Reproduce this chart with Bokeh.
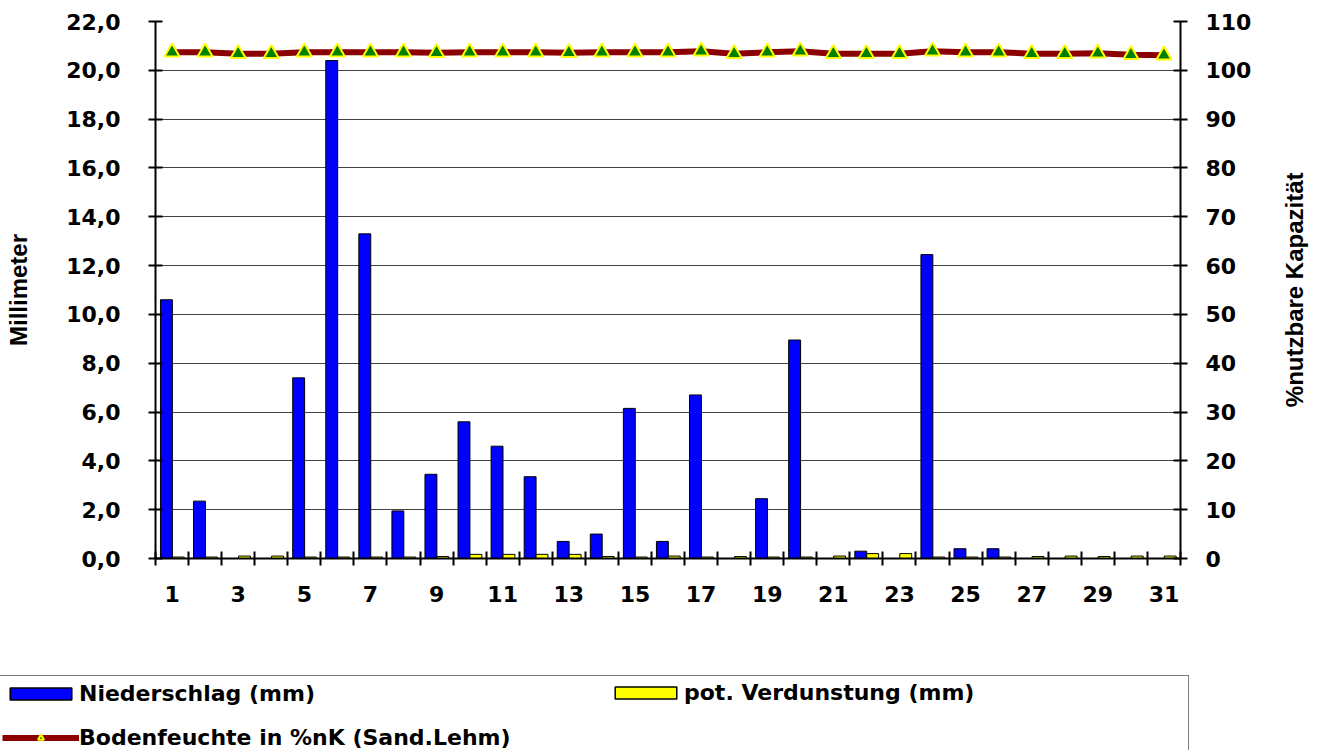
import math
from bokeh.plotting import figure
from bokeh.models import (Range1d, LinearAxis, FixedTicker, Legend, LegendItem,
                          ColumnDataSource)
from bokeh.transform import dodge
from bokeh.embed import file_html
from bokeh.resources import INLINE

days = list(range(1, 32))
niederschlag = [10.6, 2.35, 0.0, 0.0, 7.4, 20.4, 13.3, 1.95, 3.45, 5.6,
                4.6, 3.35, 0.7, 1.0, 6.15, 0.7, 6.7, 0.0, 2.45, 8.95,
                0.0, 0.3, 0.0, 12.45, 0.4, 0.4, 0.0, 0.0, 0.0, 0.0, 0.0]
verdunstung = [0.06, 0.06, 0.1, 0.1, 0.06, 0.06, 0.06, 0.06, 0.08, 0.17,
               0.17, 0.17, 0.17, 0.08, 0.06, 0.1, 0.06, 0.08, 0.06, 0.06,
               0.1, 0.2, 0.2, 0.06, 0.06, 0.06, 0.08, 0.1, 0.08, 0.1, 0.1]
bodenfeuchte = [103.7, 103.7, 103.4, 103.4, 103.7, 103.7, 103.7, 103.7, 103.6, 103.7,
                103.7, 103.7, 103.6, 103.7, 103.7, 103.7, 103.9, 103.4, 103.7, 103.9,
                103.4, 103.4, 103.4, 103.9, 103.7, 103.7, 103.4, 103.4, 103.5, 103.2, 103.1]
left_ticks = [0, 2, 4, 6, 8, 10, 12, 14, 16, 18, 20, 22]
left_labels = ["0,0", "2,0", "4,0", "6,0", "8,0", "10,0", "12,0", "14,0", "16,0", "18,0", "20,0", "22,0"]
right_ticks = [0, 10, 20, 30, 40, 50, 60, 70, 80, 90, 100, 110]
x_label_days = [1, 3, 5, 7, 9, 11, 13, 15, 17, 19, 21, 23, 25, 27, 29, 31]
series_names = ["Niederschlag (mm)", "pot. Verdunstung (mm)", "Bodenfeuchte in %nK (Sand.Lehm)"]
left_title = "Millimeter"
right_title = "%nutzbare Kapazität"

BLUE, YELLOW, RED, GREEN = "#0000FF", "#FFFF00", "#8B0000", "#008000"
TF = "DejaVu Sans"

src = ColumnDataSource(dict(day=days, n=niederschlag, v=verdunstung, b=bodenfeuchte))

W, H1, H2 = 1324, 660, 90
FL, FT, FW, FH = 155, 21, 1025, 537

p = figure(width=W, height=H1, output_backend="svg", toolbar_location=None,
           x_range=Range1d(0.5, 31.5), y_range=Range1d(0, 22),
           min_border_left=FL, min_border_top=FT,
           min_border_right=W - FL - FW, min_border_bottom=H1 - FT - FH,
           background_fill_color="white", border_fill_color="white")
p.outline_line_color = None
p.extra_y_ranges = {"right": Range1d(0, 110)}

# x axis
xa = p.xaxis[0]
xa.ticker = FixedTicker(ticks=x_label_days, minor_ticks=[d - 0.5 for d in days] + [31.5])
xa.major_tick_in = 0
xa.major_tick_out = 0
xa.minor_tick_in = 7
xa.minor_tick_out = 7
xa.minor_tick_line_color = "black"
xa.minor_tick_line_width = 2
xa.axis_line_color = "black"
xa.axis_line_width = 2
xa.major_label_text_font = TF
xa.major_label_text_font_style = "bold"
xa.major_label_text_font_size = "22px"
xa.major_label_text_color = "black"
xa.major_label_standoff = 20

# left axis
ya = p.yaxis[0]
ya.ticker = FixedTicker(ticks=left_ticks, minor_ticks=[])
ya.major_label_overrides = {t: l for t, l in zip(left_ticks, left_labels)}
ya.major_tick_in = 7
ya.major_tick_out = 7
ya.major_tick_line_width = 2
ya.major_tick_line_color = "black"
ya.minor_tick_line_color = None
ya.axis_line_color = "black"
ya.axis_line_width = 2
ya.major_label_text_font = TF
ya.major_label_text_font_style = "bold"
ya.major_label_text_font_size = "22px"
ya.major_label_text_color = "black"
ya.major_label_standoff = 28
ya.axis_label = left_title
ya.axis_label_text_font = "Liberation Sans"
ya.axis_label_text_font_style = "bold"
ya.axis_label_text_font_size = "24px"
ya.axis_label_text_color = "black"
ya.axis_label_standoff = 31

# right axis
ra = LinearAxis(y_range_name="right", ticker=FixedTicker(ticks=right_ticks, minor_ticks=[]))
ra.major_tick_in = 7
ra.major_tick_out = 7
ra.major_tick_line_width = 2
ra.major_tick_line_color = "black"
ra.minor_tick_line_color = None
ra.axis_line_color = "black"
ra.axis_line_width = 2
ra.major_label_text_font = TF
ra.major_label_text_font_style = "bold"
ra.major_label_text_font_size = "22px"
ra.major_label_text_color = "black"
ra.major_label_standoff = 18
p.add_layout(ra, "right")

# right title, reading bottom-to-top (single rotated label on a bare axis)
title_pos = 31.0
rt = LinearAxis(y_range_name="right", ticker=FixedTicker(ticks=[title_pos], minor_ticks=[]))
rt.major_label_overrides = {title_pos: right_title}
rt.major_label_orientation = math.pi / 2
rt.axis_line_color = None
rt.major_tick_line_color = None
rt.minor_tick_line_color = None
rt.major_tick_in = 0
rt.major_tick_out = 0
rt.major_label_text_font = "Liberation Sans"
rt.major_label_text_font_style = "bold"
rt.major_label_text_font_size = "24px"
rt.major_label_text_color = "black"
rt.major_label_standoff = 40
p.add_layout(rt, "right")

p.xgrid.visible = False
p.ygrid.ticker = FixedTicker(ticks=left_ticks, minor_ticks=[])
p.ygrid.grid_line_color = "#444444"
p.ygrid.grid_line_width = 1

p.vbar(x=dodge("day", -0.17, range=p.x_range), top="n", width=0.36, source=src,
       fill_color=BLUE, line_color="black", line_width=1)
p.vbar(x=dodge("day", 0.19, range=p.x_range), top="v", width=0.36, source=src,
       fill_color=YELLOW, line_color="black", line_width=1)
p.line(x="day", y="b", source=src, y_range_name="right", line_color=RED, line_width=6)
p.scatter(x="day", y="b", source=src, y_range_name="right", marker="triangle",
          size=15, fill_color=GREEN, line_color=YELLOW, line_width=2)

# legend strip: a second figure below the chart; its glyphs use the same data,
# with ranges that keep them out of view, so only the legend shows
lf = figure(width=W, height=H2, output_backend="svg", toolbar_location=None,
            x_range=Range1d(100, 101), y_range=Range1d(500, 501),
            x_axis_type=None, y_axis_type=None,
            min_border_left=0, min_border_right=0, min_border_top=0, min_border_bottom=0,
            background_fill_color="white", border_fill_color="white")
lf.outline_line_color = None
lf.xgrid.visible = False
lf.ygrid.visible = False
g_n = lf.vbar(x="day", top="n", width=0.36, source=src, fill_color=BLUE, line_color="black", line_width=1.5)
g_v = lf.vbar(x="day", top="v", width=0.36, source=src, fill_color=YELLOW, line_color="black", line_width=1.5)
g_l = lf.line(x="day", y="b", source=src, line_color=RED, line_width=6)
g_s = lf.scatter(x="day", y="b", source=src, marker="triangle", size=15,
                 fill_color=GREEN, line_color=YELLOW, line_width=2)


def style(lg):
    lg.label_text_font = TF
    lg.label_text_font_style = "bold"
    lg.label_text_font_size = "22px"
    lg.label_text_color = "black"
    lg.label_height = 25
    lg.label_standoff = 0
    lg.glyph_width = 77
    lg.glyph_height = 15
    lg.padding = 5
    lg.spacing = 19
    lg.margin = 0


leg_a = Legend(items=[LegendItem(label=series_names[0], renderers=[g_n]),
                      LegendItem(label=series_names[2], renderers=[g_l, g_s])],
               location=(-4, -6), orientation="vertical")
style(leg_a)
leg_a.label_width = 1104
leg_a.border_line_color = "black"
leg_a.border_line_width = 1
leg_a.background_fill_color = "white"
leg_a.background_fill_alpha = 1
lf.add_layout(leg_a, "center")

leg_b = Legend(items=[LegendItem(label=series_names[1], renderers=[g_v])],
               location=(607, 45), orientation="vertical")
style(leg_b)
leg_b.border_line_color = None
leg_b.background_fill_alpha = 0
lf.add_layout(leg_b, "center")

open("out.html", "w").write(file_html([p, lf], INLINE))
